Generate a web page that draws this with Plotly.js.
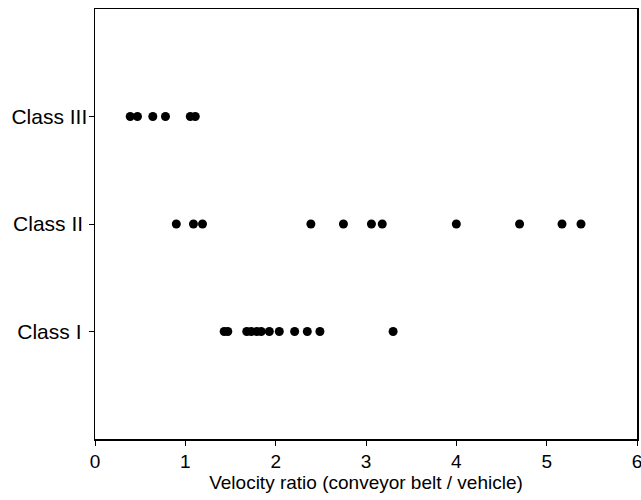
<!DOCTYPE html>
<html>
<head>
<meta charset="utf-8">
<script src="https://cdn.plot.ly/plotly-3.0.1.min.js"></script>
<style>html,body{margin:0;padding:0;background:#fff;}</style>
</head>
<body>
<div id="chart" style="width:641px;height:500px;"></div>
<script>
const classLabels = ["Class I", "Class II", "Class III"];
const classPositions = [1, 2, 3];
const class1 = [1.43, 1.47, 1.68, 1.73, 1.79, 1.84, 1.93, 2.04, 2.21, 2.35, 2.49, 3.30];
const class2 = [0.90, 1.09, 1.19, 2.39, 2.75, 3.06, 3.18, 4.00, 4.70, 5.17, 5.38];
const class3 = [0.39, 0.47, 0.64, 0.78, 1.055, 1.11];
const xTicks = [0, 1, 2, 3, 4, 5, 6];

const series = [class1, class2, class3];
const traces = series.map((vals, i) => ({
  type: 'scatter',
  mode: 'markers',
  x: vals,
  y: vals.map(() => classPositions[i]),
  marker: {color: '#000', size: 9},
  showlegend: false,
  hoverinfo: 'x'
}));

// small right padding so the labels sit like the reference
const labelPad = ['\u00a0', '\u2009', ''];
const tickText = classLabels.map((s, i) => s + labelPad[i]);

const layout = {
  width: 641, height: 500,
  margin: {l: 95, r: 4, t: 9, b: 61},
  paper_bgcolor: '#fff', plot_bgcolor: '#fff',
  font: {family: 'Liberation Sans, Arial, sans-serif', color: '#000', size: 19},
  xaxis: {
    range: [0, 6], tickvals: xTicks, ticktext: xTicks.map(String),
    showgrid: false, zeroline: false,
    showline: true, mirror: true, linecolor: '#000', linewidth: 1.5,
    ticks: 'outside', ticklen: 5, tickwidth: 1, tickcolor: '#000',
    tickfont: {size: 19}, ticklabeloverflow: 'allow',
    title: {text: 'Velocity ratio (conveyor belt / vehicle)', font: {size: 19}, standoff: 4}
  },
  yaxis: {
    range: [0, 4], tickvals: classPositions, ticktext: tickText,
    showgrid: false, zeroline: false,
    showline: true, mirror: true, linecolor: '#000', linewidth: 1.5,
    ticks: 'outside', ticklen: 5, tickwidth: 1, tickcolor: '#000',
    tickfont: {size: 21}, ticklabeloverflow: 'allow', ticklabelstandoff: -3
  }
};

Plotly.newPlot('chart', traces, layout, {displayModeBar: false, staticPlot: true});
</script>
</body>
</html>
